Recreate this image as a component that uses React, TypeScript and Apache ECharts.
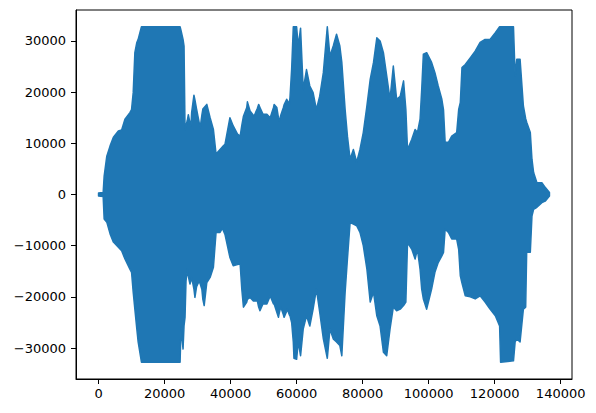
import React, { useEffect, useRef } from "react";
import * as echarts from "echarts";

// Sample index positions where the envelope was read
const sampleIndex = [
  0, 1400, 1700, 2500, 3500, 4500, 6000, 7000, 8000, 9500, 10000, 10500, 11000, 11600, 12000, 13000,
  24700, 25000, 25600, 25900, 26200, 26500, 26900, 27200, 27700, 28000, 28200, 28900, 29200, 29700,
  30500, 30800, 31300, 31600, 32000, 32800, 33800, 34800, 35600, 36800, 37500, 38300, 39800, 40800,
  42100, 42900, 43400, 43900, 44900, 45100, 45900, 46900, 47100, 48100, 48500, 48900, 49800, 51000,
  52000, 53000, 53200, 54000, 54500, 54800, 55200, 56000, 56200, 57000, 57200, 57800, 58000, 58500,
  59000, 59200, 60000, 60500, 61200, 62000, 63000, 64000, 65000, 66000, 67000,
  68100, 69300, 70100, 71100, 72100, 73100, 73700, 74700, 75400, 76200, 77200, 78200, 79200, 80200,
  81300, 82300, 83300, 84300, 85300, 86300, 87300, 88300, 89300, 90300, 91400, 92400, 93100, 93600,
  94900, 95900, 96600, 97400, 97900, 98400, 99400, 100900, 101900, 102900, 104000, 104500, 105000,
  106000, 107000, 108500, 109100, 109600, 110100, 111100, 112600, 114100, 115600, 117100, 118600,
  120200, 121500, 121800, 125700, 126200, 126700, 127700, 128700, 129400, 129700, 130800, 131300,
  131800, 132800, 134300, 135300, 136600,
];

// Upper envelope (max amplitude)
const upperEnvelope = [
  300, 400, 3600, 7500, 9500, 11200, 12400, 12600, 14700, 16000, 16600, 19900, 27700, 29700, 30300, 32767,
  32767, 32000, 30300, 29000, 12700, 13500, 14500, 15600, 14000, 13400, 16000, 19400, 18500, 16700,
  14000, 13100, 15500, 16700, 17000, 17600, 15000, 12700, 7900, 8800, 9300, 9800, 15000, 13400,
  11800, 11400, 13500, 15300, 17000, 18100, 16300, 15500, 15300, 16800, 17600, 17000, 15700, 15700,
  15000, 17000, 17600, 17000, 15000, 14400, 15500, 17000, 17500, 18600, 18400, 17600, 19000, 24500,
  32767, 32767, 32767, 29000, 32500, 20500, 24400, 21200, 19900, 16600, 19200,
  23800, 32767, 27000, 29000, 31300, 29000, 25800, 16600, 11400, 6900, 8800, 6300, 8800, 12100,
  17300, 22500, 25800, 30600, 30000, 27700, 23200, 18600, 25100, 18600, 19200, 22200, 16600, 8800,
  10800, 12700, 12100, 14700, 20500, 27400, 27700, 25800, 23800, 21200, 18600, 16600, 10200,
  10200, 11400, 12100, 16600, 18000, 24800, 25400, 26700, 28000, 29700, 30300, 30300,
  31600, 32767, 32767, 32767, 23200, 26400, 26400, 17300, 14800, 14100, 12100, 6900,
  4300, 2300, 2300, 1400, 400,
];

// Lower envelope (min amplitude)
const lowerEnvelope = [
  -300, -400, -4800, -5400, -7700, -9300, -10300, -11000, -12600, -14600, -15200, -19100, -22400, -26300, -28800, -32768,
  -32768, -26000, -30200, -25600, -24000, -16900, -14600, -16000, -17500, -16800, -16200, -18500, -20100, -18000,
  -16900, -17500, -18500, -20500, -21700, -17200, -16200, -14200, -7400, -7400, -6600, -7800, -12300, -13900,
  -13700, -13600, -18500, -22000, -21000, -20500, -20100, -20800, -20800, -20800, -22000, -22700, -21400, -21400,
  -19800, -21400, -21400, -23000, -24000, -23000, -22000, -23500, -24000, -22800, -22400, -23500, -23700, -25000,
  -28800, -32000, -32200, -28800, -31500, -26300, -23700, -25700, -22400, -18500, -23000,
  -28200, -32000, -26300, -28200, -28800, -29500, -31500, -19100, -12600, -5500, -5800, -6100, -7400, -10000,
  -14600, -21000, -19100, -23700, -25700, -30800, -31500, -26300, -22000, -22700, -22400, -21700, -21000, -9400,
  -10700, -12600, -10700, -14600, -18500, -20400, -22400, -18500, -15200, -13300, -12000, -11300, -6800,
  -7400, -8700, -8700, -10700, -15900, -17300, -19800, -20000, -20400, -19800, -21000, -22400,
  -23700, -25700, -32768, -32500, -28800, -28200, -28800, -22400, -22000, -11300, -11300, -4200,
  -2900, -2500, -1600, -1300, -300,
];

const xTickLabels = [0, 20000, 40000, 60000, 80000, 100000, 120000, 140000];
const yTickLabels = [-30000, -20000, -10000, 0, 10000, 20000, 30000];

const fmt = (v: number) => String(v).replace("-", "\u2212");

export default function App() {
  const ref = useRef<HTMLDivElement>(null);
  useEffect(() => {
    if (!ref.current) return;
    const chart = echarts.init(ref.current, null, { renderer: "svg" });
    const xMax = sampleIndex[sampleIndex.length - 1];
    const color = "#1f77b4";
    const axisCommon = {
      axisLine: { show: true, onZero: false, lineStyle: { color: "#000", width: 1 } },
      axisTick: { show: true, length: 5, lineStyle: { color: "#000", width: 1 } },
      splitLine: { show: false },
    };
    chart.setOption({
      animation: false,
      grid: {
        left: 76,
        right: 24,
        top: 10,
        bottom: 34,
        show: true,
        borderColor: "#000",
        borderWidth: 1,
        backgroundColor: "transparent",
      },
      xAxis: {
        type: "value",
        min: -0.05 * xMax,
        max: 1.05 * xMax,
        ...axisCommon,
        axisTick: { ...axisCommon.axisTick, customValues: xTickLabels },
        axisLabel: {
          customValues: xTickLabels,
          formatter: (v: number) => fmt(v),
          color: "#000",
          fontFamily: "DejaVu Sans",
          fontSize: 13,
          margin: 8,
        },
      },
      yAxis: {
        type: "value",
        min: -36045,
        max: 36044,
        ...axisCommon,
        axisTick: { ...axisCommon.axisTick, customValues: yTickLabels },
        axisLabel: {
          customValues: yTickLabels,
          formatter: (v: number) => fmt(v),
          color: "#000",
          fontFamily: "DejaVu Sans",
          fontSize: 13,
          margin: 10,
        },
      },
      series: [
        {
          type: "custom",
          name: "waveform",
          data: [[0, 0]],
          encode: { x: 0, y: 1 },
          renderItem: (_params: any, api: any) => {
            const top = sampleIndex.map((x, i) => api.coord([x, upperEnvelope[i]]));
            const bottom = sampleIndex
              .map((x, i) => api.coord([x, lowerEnvelope[i]]))
              .reverse();
            return {
              type: "polygon",
              shape: { points: top.concat(bottom) },
              style: { fill: color, stroke: color, lineWidth: 1.5, lineJoin: "round" },
            };
          },
          z: 2,
        },
      ],
    });
    return () => chart.dispose();
  }, []);
  return (
    <div
      ref={ref}
      style={{ position: "absolute", left: 0, top: 0, width: 596, height: 413 }}
    />
  );
}
